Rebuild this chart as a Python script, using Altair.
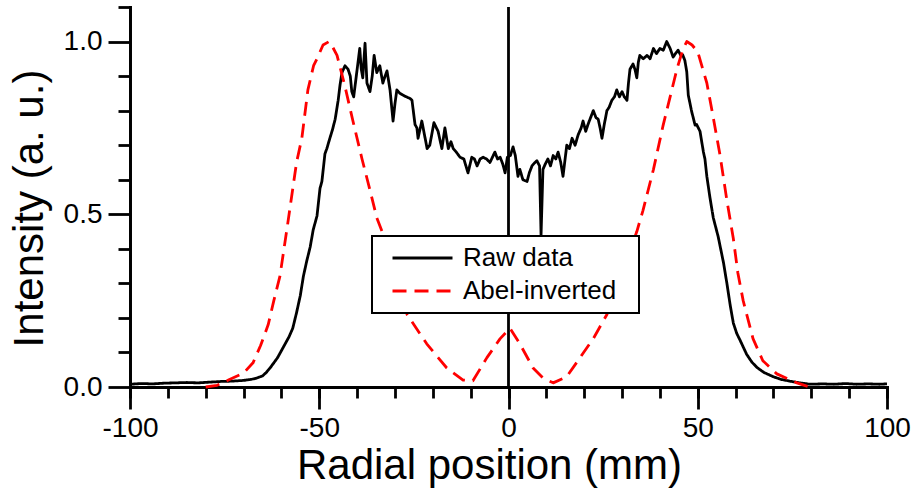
import altair as alt
import pandas as pd

FONT = "Liberation Sans"

series_names = ["Raw data", "Abel-inverted"]

raw_x = [-100, -97, -94, -91, -88, -85, -82, -79, -76, -73, -70, -68, -66.5, -65, -64, -63, -62, -61, -60, -59,
         -58, -57, -56, -55, -54.2, -53.3, -52.4, -51.6, -50.6, -49.8, -49.3, -48.5, -48, -47.2, -46.5, -45.8, -45, -44.5,
         -44, -43.2, -42.4, -41.8, -41.4, -40.9, -40.1, -39.3, -38.9, -38.5, -37.9, -37.4, -36.6, -36, -35.5, -34.8,
         -34, -33.2, -32.6, -32.1, -31.3, -30.5, -30, -29.5, -28.7, -27.9, -27, -26, -25.5, -24.7, -24.2, -23.9,
         -22.9, -22.2, -21.5, -20.8,
         -19.7, -18.6, -17.6, -16.8, -15.9, -15.2, -14.6, -13.8, -12.8, -11.8, -10.7, -9.7, -9, -8.3, -7.5, -6.7,
         -5.8, -4.9, -3.6, -2.9, -2.2, -1.5, -0.9, -0.3, 0.5, 1.2, 1.8, 2.5, 3, 3.8, 4.9, 5.5, 6.2, 7, 7.5, 8.2, 8.6, 9.1,
         9.7, 10.4, 11.1, 11.8, 12.5, 13.1, 13.8, 14.4, 15.4, 16.1, 16.8, 17.6, 18.4, 19.2, 19.7, 20.4, 21, 21.7, 22.4,
         23.1, 23.7, 24.2, 24.7, 25.3, 26, 26.6, 27.3, 28, 28.6, 29.3, 30, 30.6, 31.3, 31.7, 32.1, 32.9, 33.4, 33.9,
         34.3, 34.7, 35.6, 36.6, 37.4, 38.3, 39.1, 40, 40.9, 41.8, 42.7, 43.5, 44.1, 44.8, 45.5,
         46.0, 46.6, 47.1, 47.5, 48.4, 49.3, 49.7, 50.6, 51.5, 51.9, 52.4, 53.2, 54.1, 55.4, 56.8, 57.7, 58.6, 59.4,
         60.3, 61.2, 62.9, 64.3, 65.7, 67.5, 69.9, 72, 74.3, 77, 79.6, 83, 86, 89, 92, 95, 98, 100]
raw_y = [0.008, 0.010, 0.009, 0.011, 0.012, 0.013, 0.012, 0.014, 0.016, 0.017, 0.019, 0.022, 0.026, 0.032, 0.042,
         0.055, 0.070, 0.085, 0.105, 0.125, 0.145, 0.170, 0.215, 0.265, 0.320, 0.365, 0.405, 0.455, 0.495, 0.575,
         0.595, 0.675, 0.690, 0.720, 0.745, 0.775, 0.830, 0.875,
         0.910, 0.930, 0.920, 0.900, 0.855, 0.840, 0.910, 0.980, 0.920, 0.895, 0.995, 0.880, 0.855, 0.900, 0.960,
         0.910, 0.930, 0.880, 0.900, 0.915, 0.860, 0.770, 0.820, 0.860, 0.850, 0.845, 0.840, 0.835, 0.830, 0.760,
         0.750, 0.720, 0.770, 0.730, 0.690, 0.700,
         0.765, 0.740, 0.690, 0.750, 0.690, 0.710, 0.690, 0.680, 0.665, 0.660, 0.620, 0.665, 0.660, 0.640, 0.660,
         0.665, 0.660, 0.650, 0.680, 0.660, 0.665, 0.645, 0.620, 0.665, 0.670, 0.695, 0.670, 0.610, 0.630, 0.600,
         0.595, 0.620, 0.640, 0.650, 0.655, 0.640, 0.440, 0.630,
         0.645, 0.660, 0.640, 0.670, 0.660, 0.680, 0.650, 0.610, 0.700, 0.690, 0.720, 0.700, 0.730, 0.750, 0.770,
         0.740, 0.760, 0.780, 0.800, 0.780, 0.775, 0.750, 0.720, 0.760, 0.800, 0.810, 0.830, 0.840, 0.860, 0.840,
         0.855, 0.840, 0.830, 0.880, 0.920, 0.935, 0.920, 0.895, 0.940, 0.960, 0.950, 0.960, 0.950, 0.980, 0.965,
         0.980, 0.975, 1.000, 0.980, 0.955, 0.965, 0.975, 0.960,
         0.962, 0.945, 0.912, 0.845, 0.797, 0.758, 0.760, 0.740, 0.680, 0.660, 0.610, 0.550, 0.490, 0.435, 0.360,
         0.300, 0.235, 0.185, 0.155, 0.135, 0.095, 0.072, 0.056, 0.042, 0.030, 0.022, 0.017, 0.012, 0.008, 0.009,
         0.008, 0.010, 0.008, 0.009, 0.008, 0.009]

abel_x = [-80, -77, -74, -70, -67.5, -65.5, -63.5, -62, -60.4, -58.3, -56, -54.6, -53, -51.5, -50.6, -49, -47.4,
          -46.5, -45.3, -43.2, -41.1, -38.7, -36.6, -34.8, -33.4, -30, -26.8, -21.6, -16.3, -12, -9.4, -5.7, -2.2,
          0.4, 3, 6.5, 9.1, 11.8, 15.4, 18.9, 22.4, 26, 30, 33.9, 35.5, 38.3, 40.8, 42.7, 44.5, 46, 47.1, 48.5, 50,
          52.4, 54.1, 55.9, 57.7, 59.4, 60.6, 62, 64.6, 67.2, 70.9, 76.2, 79.6]
abel_y = [0.0, 0.005, 0.02, 0.04, 0.07, 0.12, 0.18, 0.25, 0.32, 0.475, 0.65, 0.72, 0.86, 0.93, 0.95, 0.99, 1.0,
          0.985, 0.96, 0.87, 0.77, 0.66, 0.57, 0.49, 0.45, 0.33, 0.21, 0.125, 0.055, 0.02, 0.018, 0.085, 0.14,
          0.17, 0.125, 0.055, 0.026, 0.012, 0.03, 0.085, 0.14, 0.21, 0.33, 0.45, 0.51, 0.63, 0.755, 0.84, 0.92,
          0.975, 1.0, 0.99, 0.97, 0.88, 0.78, 0.67, 0.54, 0.43, 0.33, 0.25, 0.14, 0.076, 0.038, 0.012, 0.0]

x_major_ticks = [-100, -50, 0, 50, 100]
x_minor_ticks = list(range(-100, 101, 10))
y_major_ticks = [0.0, 0.5, 1.0]
y_minor_ticks = [0.1, 0.2, 0.3, 0.4, 0.6, 0.7, 0.8, 0.9, 1.1]
x_domain = [-100, 100]
y_domain = [0, 1.1]

raw = pd.DataFrame({"x": raw_x, "y": raw_y, "series": series_names[0], "order": range(len(raw_x))})
abel = pd.DataFrame({"x": abel_x, "y": abel_y, "series": series_names[1], "order": range(len(abel_x))})
data = pd.concat([raw, abel], ignore_index=True)
zero_df = pd.DataFrame({"x": [0], "y0": [y_domain[0]], "y1": [y_domain[1]]})

x_scale = alt.Scale(domain=x_domain, nice=False, zero=False)
y_scale = alt.Scale(domain=y_domain, nice=False, zero=False)

common_axis = dict(grid=False, domainColor="black", tickColor="black", domainWidth=2.8, tickWidth=2.8,
                   domainCap="square")

x_major = alt.Axis(orient="bottom", values=x_major_ticks, tickSize=22,
                   labelExpr="datum.value < 0 ? '-' + format(-datum.value, 'd') : format(datum.value, 'd')",
                   labelFont=FONT, labelFontSize=28,
                   labelColor="black", labelBaseline="alphabetic", labelPadding=27, labelFlush=False,
                   labelOverlap=False, title="Radial position (mm)", titleFont=FONT, titleFontSize=42,
                   titleFontWeight="normal", titleColor="black", titleX=359, titleY=91,
                   titleBaseline="alphabetic", titleAlign="center", **common_axis)
x_minor = alt.Axis(orient="bottom", values=x_minor_ticks, tickSize=11, labels=False, title=None, **common_axis)
y_major = alt.Axis(orient="left", values=y_major_ticks, tickSize=22, format=".1f", labelFont=FONT,
                   labelFontSize=28, labelColor="black", labelPadding=6, labelFlush=False, labelOverlap=False,
                   title="Intensity (a. u.)", titleFont=FONT, titleFontSize=42, titleFontWeight="normal",
                   titleColor="black", titleX=-88, titleY=201, titleAngle=270, titleBaseline="alphabetic",
                   titleAlign="center", **common_axis)
y_minor = alt.Axis(orient="left", values=y_minor_ticks, tickSize=12, labels=False, title=None, **common_axis)

legend = alt.Legend(title="\u00a0", titleOrient="right", titleFontSize=2, titlePadding=14,
                    titleColor="white", orient="none", legendX=242, legendY=229, fillColor="white",
                    strokeColor="black", padding=9, symbolType="M-1,0H1", symbolSize=3600,
                    symbolStrokeWidth=2.8, symbolOffset=10, clipHeight=26, labelFont=FONT, labelFontSize=26,
                    labelColor="black", labelOffset=9, rowPadding=7, labelLimit=400)

lines = alt.Chart(data).mark_line(strokeJoin="round", strokeWidth=2.8).encode(
    x=alt.X("x:Q", scale=x_scale, axis=x_major),
    y=alt.Y("y:Q", scale=y_scale, axis=y_major),
    color=alt.Color("series:N", scale=alt.Scale(domain=series_names, range=["#000000", "#ff0000"]),
                    legend=legend),
    strokeDash=alt.StrokeDash("series:N", scale=alt.Scale(domain=series_names, range=[[1, 0], [14, 8]]),
                              legend=legend),
    order=alt.Order("order:Q"),
)

zero_line = alt.Chart(zero_df).mark_rule(color="black", strokeWidth=2.8).encode(
    x=alt.X("x:Q", scale=x_scale, axis=x_minor),
    y=alt.Y("y0:Q", scale=y_scale, axis=y_minor),
    y2="y1:Q",
)

chart = alt.layer(zero_line, lines).resolve_axis(x="independent", y="independent").properties(
    width=757, height=380,
    autosize=alt.AutoSizeParams(type="none"),
    padding={"left": 130, "top": 7, "right": 30, "bottom": 107},
    background="white",
).configure_view(stroke=None).configure_legend(strokeWidth=2)

chart.save("out.html", embed_options={"renderer": "svg", "actions": False})
